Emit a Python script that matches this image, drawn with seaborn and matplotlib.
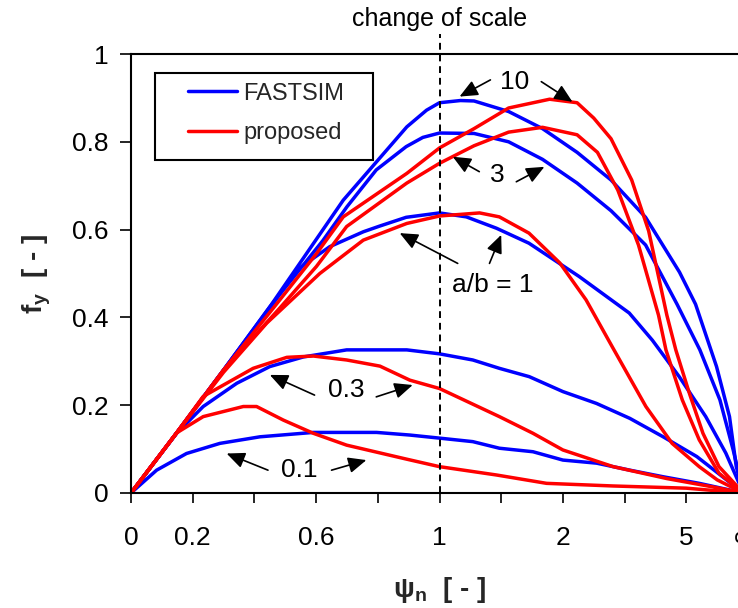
import numpy as np
import pandas as pd
import matplotlib
matplotlib.use("Agg")
import matplotlib.pyplot as plt
import seaborn as sns
from matplotlib.lines import Line2D
from matplotlib.patches import Rectangle

# x is in plot units: 0..1 linear, then 1..inf squeezed to 1..2 (labels 2, 5, inf)
fastsim_10_x = [0, 0.148, 0.3, 0.45, 0.688, 0.894, 0.958, 1.0, 1.068, 1.112, 1.224, 1.334, 1.446, 1.556, 1.668, 1.778, 1.83, 1.898, 1.94, 1.962, 1.985]
fastsim_10_y = [0, 0.137, 0.28, 0.424, 0.667, 0.834, 0.872, 0.889, 0.894, 0.893, 0.869, 0.830, 0.776, 0.713, 0.628, 0.503, 0.43, 0.288, 0.174, 0.06, 0.0]

fastsim_3_x = [0, 0.148, 0.3, 0.45, 0.622, 0.70, 0.795, 0.892, 0.946, 1.0, 1.112, 1.224, 1.334, 1.446, 1.556, 1.668, 1.77, 1.844, 1.909, 1.952, 1.985]
fastsim_3_y = [0, 0.137, 0.28, 0.424, 0.575, 0.652, 0.736, 0.789, 0.81, 0.82, 0.819, 0.800, 0.760, 0.706, 0.643, 0.565, 0.43, 0.326, 0.212, 0.098, 0.0]

fastsim_1_x = [0, 0.148, 0.3, 0.45, 0.537, 0.644, 0.753, 0.806, 0.892, 1.0, 1.087, 1.185, 1.29, 1.453, 1.615, 1.69, 1.777, 1.863, 1.928, 1.985]
fastsim_1_y = [0, 0.137, 0.28, 0.421, 0.508, 0.561, 0.595, 0.608, 0.628, 0.638, 0.629, 0.603, 0.569, 0.493, 0.41, 0.348, 0.265, 0.174, 0.091, 0.0]

fastsim_03_x = [0, 0.148, 0.234, 0.343, 0.45, 0.559, 0.699, 0.806, 0.894, 1.0, 1.108, 1.194, 1.291, 1.40, 1.509, 1.617, 1.725, 1.834, 1.985]
fastsim_03_y = [0, 0.136, 0.197, 0.25, 0.288, 0.31, 0.326, 0.326, 0.326, 0.317, 0.303, 0.284, 0.265, 0.231, 0.204, 0.170, 0.128, 0.083, 0.0]

fastsim_01_x = [0, 0.083, 0.18, 0.288, 0.418, 0.591, 0.796, 0.904, 1.0, 1.108, 1.194, 1.303, 1.40, 1.509, 1.617, 1.725, 1.842, 1.985]
fastsim_01_y = [0, 0.052, 0.09, 0.113, 0.128, 0.138, 0.138, 0.132, 0.125, 0.117, 0.102, 0.094, 0.075, 0.068, 0.052, 0.037, 0.022, 0.0]

proposed_10_x = [0, 0.148, 0.3, 0.461, 0.601, 0.688, 0.894, 1.0, 1.112, 1.224, 1.357, 1.446, 1.50, 1.556, 1.623, 1.678, 1.737, 1.766, 1.81, 1.854, 1.906, 1.985]
proposed_10_y = [0, 0.137, 0.28, 0.421, 0.545, 0.629, 0.728, 0.786, 0.830, 0.877, 0.897, 0.889, 0.854, 0.807, 0.713, 0.597, 0.405, 0.326, 0.227, 0.136, 0.06, 0.0]

proposed_3_x = [0, 0.148, 0.3, 0.482, 0.601, 0.699, 0.894, 1.0, 1.112, 1.224, 1.334, 1.446, 1.512, 1.578, 1.645, 1.71, 1.734, 1.787, 1.842, 1.906, 1.985]
proposed_3_y = [0, 0.137, 0.28, 0.421, 0.516, 0.607, 0.706, 0.751, 0.791, 0.822, 0.833, 0.816, 0.776, 0.69, 0.565, 0.405, 0.326, 0.212, 0.121, 0.045, 0.0]

proposed_1_x = [0, 0.148, 0.3, 0.44, 0.612, 0.753, 0.894, 1.0, 1.13, 1.194, 1.29, 1.39, 1.475, 1.56, 1.669, 1.754, 1.842, 1.90, 1.985]
proposed_1_y = [0, 0.137, 0.275, 0.387, 0.50, 0.576, 0.614, 0.631, 0.638, 0.629, 0.592, 0.524, 0.44, 0.333, 0.197, 0.113, 0.06, 0.03, 0.0]

proposed_03_x = [0, 0.148, 0.234, 0.396, 0.505, 0.591, 0.699, 0.807, 0.904, 1.0, 1.194, 1.303, 1.40, 1.563, 1.736, 1.885, 1.985]
proposed_03_y = [0, 0.137, 0.22, 0.284, 0.309, 0.312, 0.303, 0.289, 0.257, 0.238, 0.174, 0.136, 0.098, 0.06, 0.033, 0.014, 0.0]

proposed_01_x = [0, 0.148, 0.234, 0.364, 0.407, 0.494, 0.591, 0.699, 0.894, 1.0, 1.185, 1.347, 1.563, 1.80, 1.985]
proposed_01_y = [0, 0.137, 0.174, 0.197, 0.197, 0.166, 0.136, 0.109, 0.077, 0.06, 0.041, 0.022, 0.016, 0.011, 0.0]

series = [
    ("FASTSIM", "10", fastsim_10_x, fastsim_10_y),
    ("FASTSIM", "3", fastsim_3_x, fastsim_3_y),
    ("FASTSIM", "1", fastsim_1_x, fastsim_1_y),
    ("FASTSIM", "0.3", fastsim_03_x, fastsim_03_y),
    ("FASTSIM", "0.1", fastsim_01_x, fastsim_01_y),
    ("proposed", "10", proposed_10_x, proposed_10_y),
    ("proposed", "3", proposed_3_x, proposed_3_y),
    ("proposed", "1", proposed_1_x, proposed_1_y),
    ("proposed", "0.3", proposed_03_x, proposed_03_y),
    ("proposed", "0.1", proposed_01_x, proposed_01_y),
]

x_tick_pos = [0, 0.2, 0.4, 0.6, 0.8, 1.0, 1.2, 1.4, 1.6, 1.8, 1.985]
x_tick_lab = ["0", "0.2", "", "0.6", "", "1", "", "2", "", "5", "∞"]
y_ticks = [0, 0.2, 0.4, 0.6, 0.8, 1.0]
y_tick_lab = ["0", "0.2", "0.4", "0.6", "0.8", "1"]

# label, text position, left arrow (tail, head), right arrow (tail, head)
annotations = [
    ("10", (1.243, 0.937), ((1.165, 0.941), (1.065, 0.903)), ((1.33, 0.937), (1.431, 0.891))),
    ("3", (1.188, 0.724), ((1.129, 0.732), (1.043, 0.766)), ((1.249, 0.709), (1.34, 0.743))),
    ("a/b = 1", (1.172, 0.474), ((1.059, 0.523), (0.871, 0.592)), ((1.162, 0.523), (1.2, 0.588))),
    ("0.3", (0.698, 0.235), ((0.595, 0.223), (0.45, 0.269)), ((0.795, 0.219), (0.913, 0.246))),
    ("0.1", (0.547, 0.052), ((0.444, 0.052), (0.31, 0.09)), ((0.65, 0.052), (0.763, 0.075))),
]

rows = []
for model, ratio, xs, ys in series:
    for i, (xv, yv) in enumerate(zip(xs, ys)):
        rows.append({"model": model, "curve": model + ratio, "order": i, "x": xv, "y": yv})
df = pd.DataFrame(rows)

sns.set_theme(style="white")
plt.rcParams["font.family"] = ["Liberation Sans", "DejaVu Sans"]
plt.rcParams["mathtext.fontset"] = "custom"
plt.rcParams["mathtext.rm"] = "Liberation Sans"
plt.rcParams["mathtext.bf"] = "Liberation Sans:bold"

fig = plt.figure(figsize=(7.38, 6.08), dpi=100)
ax = fig.add_axes([131 / 738, 115 / 608, 2.0 * 308.5 / 738, 439 / 608])

palette = {"FASTSIM": "#0000ff", "proposed": "#ff0000"}
sns.lineplot(data=df, x="x", y="y", hue="model", units="curve", estimator=None,
             sort=False, palette=palette, linewidth=2.5, legend=False, ax=ax)

ax.set_xlim(0, 2.0)
ax.set_ylim(0, 1)
ax.set_xticks(x_tick_pos)
ax.set_xticklabels(x_tick_lab)
ax.set_yticks(y_ticks)
ax.set_yticklabels(y_tick_lab)
ax.tick_params(axis="x", direction="out", length=7, width=1.2, pad=17, labelsize=19, colors="black", bottom=True)
ax.tick_params(axis="y", direction="out", length=8, width=1.2, pad=8, labelsize=19, colors="black", left=True)
for s in ["left", "top", "bottom"]:
    ax.spines[s].set_color("black")
    ax.spines[s].set_linewidth(1.5)
ax.spines["right"].set_visible(False)

ax.set_xlabel("ψ$_\\mathbf{n}$  [ - ]", fontsize=20, fontweight="bold", labelpad=18)
ax.set_ylabel("f$_\\mathbf{y}$  [ - ]", fontsize=20, fontweight="bold", labelpad=14)

# change of scale marker
ax.axvline(1.0, ymin=0, ymax=1.045, color="black", lw=1.4, ls=(0, (3.5, 2.5)), clip_on=False)
ax.text(1.0, 1.08, "change of scale", ha="center", va="center", fontsize=18, color="black")

for label, tpos, (ltail, lhead), (rtail, rhead) in annotations:
    ax.text(tpos[0], tpos[1], label, ha="center", va="center", fontsize=19, color="black")
    for tail, head in [(ltail, lhead), (rtail, rhead)]:
        ax.annotate("", xy=head, xytext=tail,
                    arrowprops=dict(arrowstyle="-|>,head_length=0.5,head_width=0.22",
                                    color="black", lw=1.2, mutation_scale=22,
                                    shrinkA=0, shrinkB=0))

# legend box
ax.add_patch(Rectangle((0.078, 0.759), 0.708, 0.198, fill=False, edgecolor="black", lw=1.5,
                       transform=ax.transData, zorder=5))
handles = [Line2D([0], [0], color="#0000ff", lw=2.5), Line2D([0], [0], color="#ff0000", lw=2.5)]
ax.legend(handles, ["FASTSIM", "proposed"], frameon=False, loc="upper left",
          bbox_to_anchor=(0.184, 0.935), bbox_transform=ax.transData, borderaxespad=0,
          borderpad=0, handlelength=2.1, handletextpad=0.25, labelspacing=0.75, fontsize=17)

fig.savefig("out.png", dpi=100)
